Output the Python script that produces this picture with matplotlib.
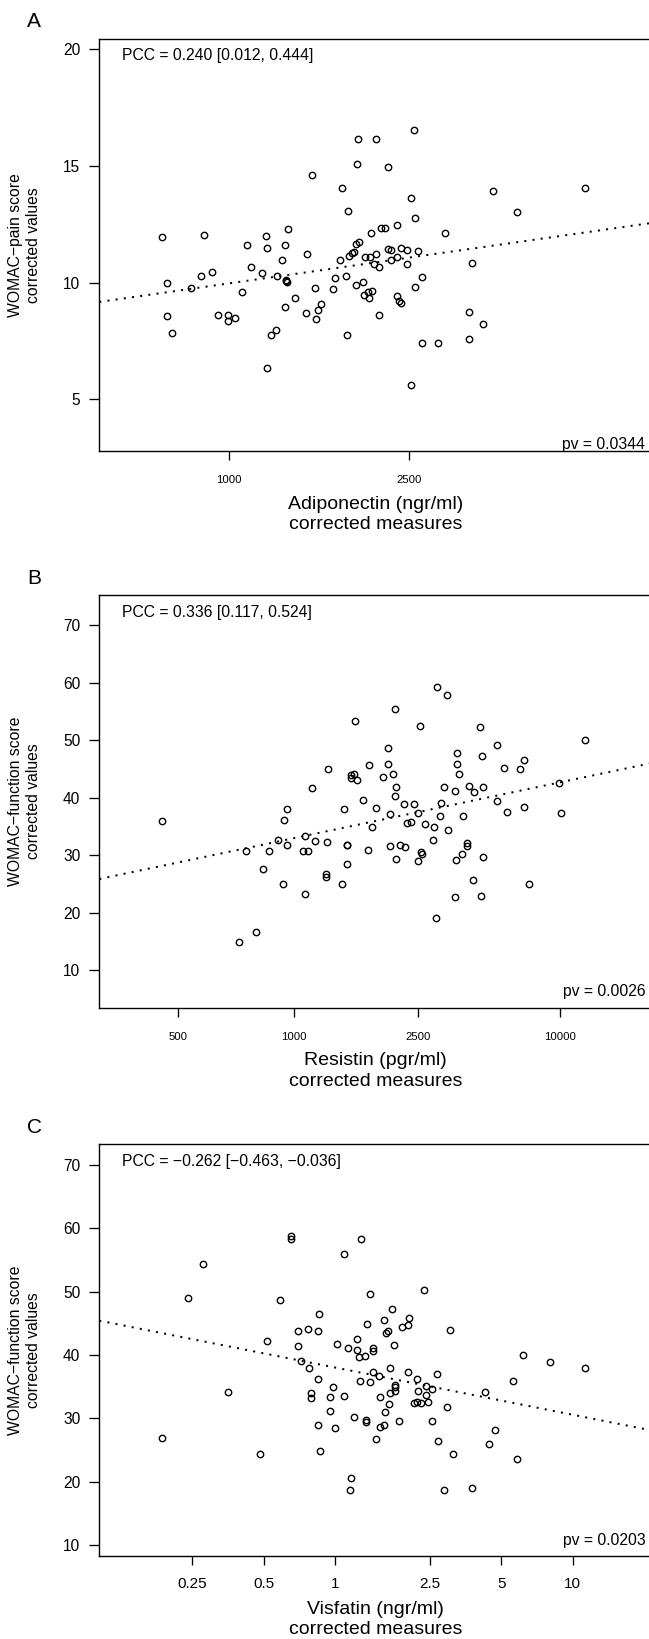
import numpy as np
import matplotlib
matplotlib.use('Agg')
import matplotlib.pyplot as plt
from matplotlib.ticker import FixedLocator, FixedFormatter, NullLocator

plt.rcParams['font.family'] = ['Liberation Sans', 'DejaVu Sans']

# ---------------- data ----------------
adiponectin = [712, 731, 730, 749, 826, 868, 880, 917, 947, 994, 994, 1030, 1070, 1095, 1118, 1181,
               1209, 1217, 1212, 1242, 1269, 1280, 1309, 1333, 1349, 1333, 1336, 1343, 1339, 1398,
               1483, 1486, 1527, 1553, 1556, 1573, 1600, 1697, 1714, 1756, 1777, 1819, 1823, 1835,
               1847, 1867, 1888, 1905, 1905, 1925, 1916, 1938, 1980, 1984, 2002, 2037, 2033, 2046,
               2064, 2073, 2095, 2113, 2118, 2145, 2145, 2164, 2217, 2245, 2250, 2282, 2278, 2347,
               2347, 2347, 2376, 2400, 2395, 2480, 2475, 2521, 2531, 2570, 2580, 2585, 2615, 2667,
               2667, 2904, 3002, 3401, 3451, 3386, 3638, 3834, 4342, 6119]
pain_score = [11.95, 10.0, 8.57, 7.85, 9.75, 10.29, 12.02, 10.44, 8.63, 8.61, 8.35, 8.50, 9.59, 11.61,
              10.66, 10.41, 11.99, 11.47, 6.34, 7.76, 7.98, 10.29, 10.99, 11.61, 12.30, 8.94, 10.07,
              10.04, 10.10, 9.34, 8.71, 11.22, 14.60, 9.79, 8.45, 8.83, 9.07, 9.71, 10.18, 10.96,
              14.07, 10.28, 7.76, 13.07, 11.14, 11.28, 11.30, 11.65, 9.90, 16.14, 15.07, 11.76,
              10.01, 9.47, 11.11, 9.34, 9.62, 11.11, 12.12, 9.63, 10.80, 11.21, 16.14, 10.69, 8.60,
              12.36, 12.36, 11.46, 14.97, 11.40, 10.99, 12.46, 11.08, 9.44, 9.23, 9.14, 11.47,
              11.39, 10.78, 5.62, 13.64, 16.52, 12.76, 9.81, 11.36, 10.24, 7.43, 7.42, 12.12, 8.73,
              10.84, 7.57, 8.22, 13.94, 13.01, 14.04]

resistin = [458, 708, 741, 789, 825, 853, 906, 933, 940, 956, 958, 1062, 1077, 1080, 1098, 1129, 1155,
            1243, 1243, 1251, 1261, 1389, 1409, 1439, 1443, 1446, 1482, 1490, 1518, 1528, 1556, 1628,
            1679, 1695, 1737, 1793, 1880, 1953, 1966, 1985, 1998, 2043, 2063, 2063, 2090, 2083, 2160,
            2218, 2233, 2270, 2355, 2419, 2495, 2500, 2529, 2564, 2571, 2645, 2826, 2846, 2897, 2928,
            2991, 3023, 3111, 3179, 3202, 3408, 3418, 3459, 3469, 3479, 3550, 3630, 3671, 3812, 3826,
            3871, 4037, 4068, 4296, 4346, 4380, 4433, 4433, 5079, 5093, 5424, 5608, 6396, 6709, 6709,
            7041, 9858, 10098, 13508]
function_score_b = [35.93, 14.97, 30.72, 16.71, 27.60, 30.72, 32.69, 24.97, 36.05, 31.74, 38.02, 30.72,
                    33.29, 23.23, 30.72, 41.62, 32.40, 26.71, 26.11, 32.28, 45.03, 24.97, 38.08, 31.80,
                    28.38, 31.68, 43.89, 43.47, 44.13, 53.35, 43.00, 39.64, 30.90, 45.69, 34.91, 38.14,
                    43.53, 48.68, 45.87, 31.56, 37.13, 44.07, 55.45, 40.36, 41.86, 29.28, 31.80, 38.92,
                    31.32, 35.57, 35.81, 38.92, 28.98, 37.25, 52.46, 30.54, 30.24, 35.39, 32.57, 34.91,
                    19.10, 59.28, 36.77, 38.98, 41.80, 57.90, 34.31, 22.69, 41.20, 29.16, 47.72, 45.87,
                    44.13, 30.18, 36.77, 32.10, 31.56, 42.10, 25.69, 40.90, 52.34, 22.81, 47.31, 41.86,
                    29.70, 49.22, 39.34, 45.15, 37.49, 44.91, 46.59, 38.38, 25.03, 42.51, 37.25, 49.94]

visfatin = [0.1865, 0.2401, 0.2776, 0.3532, 0.4794, 0.5173, 0.5836, 0.6531, 0.6531, 0.6966, 0.6966,
            0.7165, 0.7671, 0.7733, 0.7921, 0.7889, 0.8447, 0.8549, 0.8482, 0.8415, 0.8583, 0.9491,
            0.9491, 0.9762, 1.0, 1.0203, 1.0837, 1.0924, 1.1328, 1.1510, 1.1696, 1.1933, 1.2375,
            1.2375, 1.2576, 1.2727, 1.2830, 1.3356, 1.3463, 1.3463, 1.3625, 1.3957, 1.3990, 1.4355,
            1.4479, 1.4479, 1.4885, 1.5249, 1.5434, 1.5434, 1.6067, 1.6029, 1.6144, 1.6329, 1.6726,
            1.6844, 1.7066, 1.7066, 1.7273, 1.7696, 1.7822, 1.7865, 1.7908, 1.8644, 1.9177, 2.0204,
            2.0204, 2.0447, 2.1544, 2.2159, 2.2260, 2.2209, 2.2887, 2.3730, 2.4210, 2.4210, 2.4603,
            2.5510, 2.5629, 2.6874, 2.7022, 2.8661, 2.9602, 3.0444, 3.1311, 3.7670, 4.2658, 4.4583,
            4.6979, 5.6069, 5.8602, 6.1741, 8.0171, 11.327]
function_score_c = [26.92, 48.97, 54.42, 34.23, 24.39, 42.16, 48.63, 58.81, 58.25, 43.79, 41.37, 39.07,
                    44.18, 37.94, 34.00, 33.16, 43.79, 46.55, 36.20, 28.89, 24.84, 33.39, 31.14, 35.02,
                    28.44, 41.77, 55.94, 33.61, 41.09, 18.65, 20.67, 30.24, 42.55, 40.87, 39.74, 35.86,
                    58.36, 39.91, 29.79, 29.39, 44.86, 35.69, 49.64, 41.15, 40.70, 37.27, 26.75, 36.65,
                    33.44, 28.72, 45.59, 29.00, 31.08, 43.40, 43.73, 32.26, 37.94, 34.00, 47.22, 41.60,
                    35.02, 34.29, 35.30, 29.62, 44.47, 37.27, 44.80, 45.82, 32.49, 36.25, 34.29, 32.54,
                    32.49, 50.20, 35.07, 33.72, 32.65, 29.67, 34.62, 36.93, 26.41, 18.76, 31.87, 44.02,
                    24.33, 19.10, 34.23, 25.96, 28.10, 35.92, 23.60, 40.08, 38.95, 37.88]

xticks_a = [1000, 2500]
xticks_b = [500, 1000, 2500, 10000]
xticks_c = [0.25, 0.5, 1, 2.5, 5, 10]
xticklabels_a = ['1000', '2500']
xticklabels_b = ['500', '1000', '2500', '10000']
xticklabels_c = ['0.25', '0.5', '1', '2.5', '5', '10']
yticks_a = [5, 10, 15, 20]
yticks_bc = [10, 20, 30, 40, 50, 60, 70]

# ---------------- transforms ----------------
def bc_fwd(x):
    x = np.clip(np.asarray(x, dtype=float), 1e-12, None)
    return -np.power(x, -0.25)

def bc_inv(t):
    t = np.clip(-np.asarray(t, dtype=float), 1e-12, None)
    return np.power(t, -4.0)

def log_fwd(x):
    return np.log10(np.clip(np.asarray(x, dtype=float), 1e-300, None))

def log_inv(t):
    return np.power(10.0, np.asarray(t, dtype=float))

W, H = 649, 1639
fig = plt.figure(figsize=(W / 100, H / 100), dpi=100)

AX_LEFT, AX_RIGHT = 99.3, 652.0

panels = [
    dict(letter='A', top=38.6, bottom=451.0, x=adiponectin, y=pain_score, scale='log',
         xlim=(517, 8615), ylim=(2.79, 20.45), xt=xticks_a, xtl=xticklabels_a, xfs=8.2, xpad=10.8,
         yt=yticks_a, xlabel='Adiponectin (ngr/ml)\ncorrected measures',
         ylabel='WOMAC\u2212pain score\ncorrected values',
         pcc='PCC = 0.240 [0.012, 0.444]', pv='pv = 0.0344', pv_off=2.5),
    dict(letter='B', top=595.1, bottom=1007.6, x=resistin, y=function_score_b, scale='bc',
         xlim=(331, 34603), ylim=(3.48, 75.21), xt=xticks_b, xtl=xticklabels_b, xfs=8.2, xpad=10.8,
         yt=yticks_bc, xlabel='Resistin (pgr/ml)\ncorrected measures',
         ylabel='WOMAC\u2212function score\ncorrected values',
         pcc='PCC = 0.336 [0.117, 0.524]', pv='pv = 0.0026', pv_off=11.5),
    dict(letter='C', top=1144.2, bottom=1555.9, x=visfatin, y=function_score_c, scale='log',
         xlim=(0.1012, 21.63), ylim=(8.31, 73.26), xt=xticks_c, xtl=xticklabels_c, xfs=11, xpad=9.0,
         yt=yticks_bc, xlabel='Visfatin (ngr/ml)\ncorrected measures',
         ylabel='WOMAC\u2212function score\ncorrected values',
         pcc='PCC = \u22120.262 [\u22120.463, \u22120.036]', pv='pv = 0.0203', pv_off=11.0),
]

for p in panels:
    assert len(p['x']) == len(p['y'])
    rect = [AX_LEFT / W, 1 - p['bottom'] / H, (AX_RIGHT - AX_LEFT) / W, (p['bottom'] - p['top']) / H]
    ax = fig.add_axes(rect)
    if p['scale'] == 'log':
        ax.set_xscale('log')
        fwd, inv = log_fwd, log_inv
    else:
        ax.set_xscale('function', functions=(bc_fwd, bc_inv))
        fwd, inv = bc_fwd, bc_inv

    xs = np.asarray(p['x'], dtype=float)
    ys = np.asarray(p['y'], dtype=float)
    ax.plot(xs, ys, linestyle='none', marker='o', markersize=4.6, markerfacecolor='none',
            markeredgecolor='black', markeredgewidth=1.0, clip_on=False)

    # least-squares line on the transformed x scale
    slope, intercept = np.polyfit(fwd(xs), ys, 1)
    tx = fwd(np.array(p['xlim']))
    ax.plot(inv(tx), intercept + slope * tx, color='black', linewidth=1.45,
            linestyle=(0, (1, 3.1)), dash_capstyle='butt')

    ax.set_xlim(*p['xlim'])
    ax.set_ylim(*p['ylim'])
    ax.xaxis.set_major_locator(FixedLocator(p['xt']))
    ax.xaxis.set_major_formatter(FixedFormatter(p['xtl']))
    ax.xaxis.set_minor_locator(NullLocator())
    ax.yaxis.set_major_locator(FixedLocator(p['yt']))
    ax.yaxis.set_minor_locator(NullLocator())
    ax.tick_params(axis='y', length=7.2, width=0.95, pad=6.5, labelsize=11.2)
    ax.tick_params(axis='x', length=6.5, width=0.95, pad=p['xpad'], labelsize=p['xfs'])
    for s in ax.spines.values():
        s.set_linewidth(1.0)

    ax.set_xlabel(p['xlabel'], fontsize=14, linespacing=1.25)
    ax.xaxis.set_label_coords(0.5, -63.5 / (p['bottom'] - p['top']))
    ax.xaxis.label.set_va('center')
    ax.set_ylabel(p['ylabel'], fontsize=11.3, linespacing=1.3)
    ax.yaxis.set_label_coords((24.6 - AX_LEFT) / (AX_RIGHT - AX_LEFT), 0.5)
    ax.yaxis.label.set_va('center')

    fig.text(121.5 / W, 1 - (p['top'] + 21.8) / H, p['pcc'], fontsize=11.3,
             ha='left', va='baseline')
    fig.text(645.5 / W, 1 - (p['bottom'] - p['pv_off']) / H, p['pv'], fontsize=11.3,
             ha='right', va='baseline')
    fig.text(27.0 / W, 1 - (p['top'] - 11.5) / H, p['letter'], fontsize=15,
             ha='left', va='baseline')

fig.savefig('out.png', dpi=100, facecolor='white')
